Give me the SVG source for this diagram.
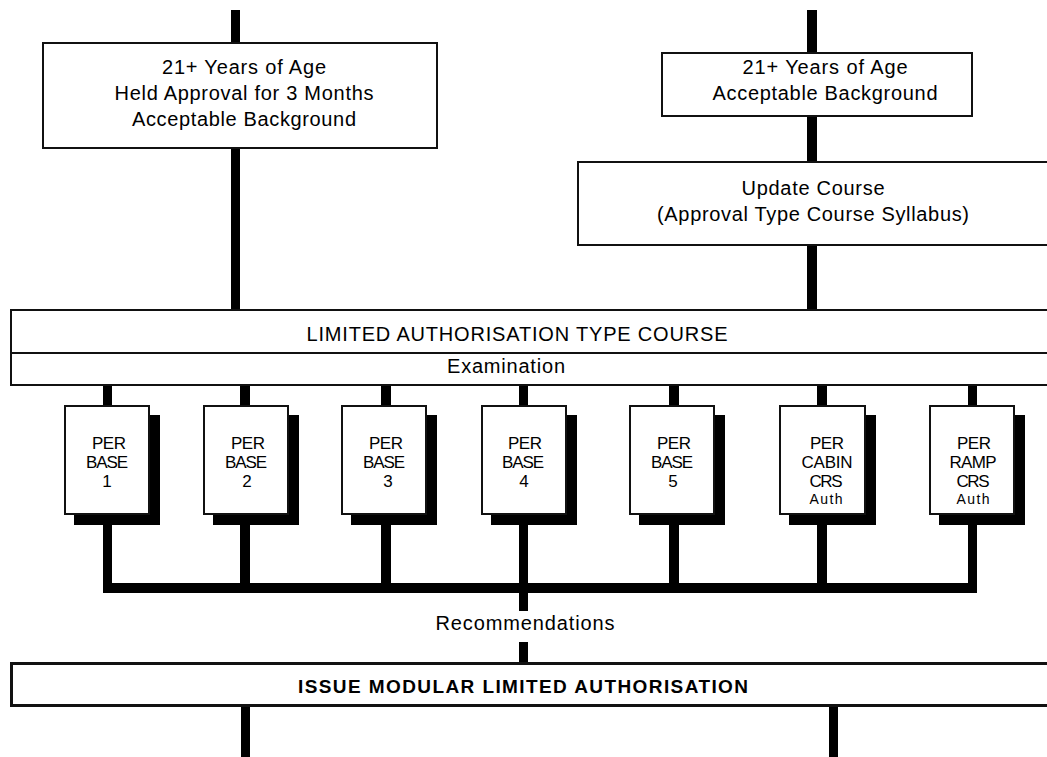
<svg xmlns="http://www.w3.org/2000/svg" width="1047" height="757" viewBox="0 0 1047 757">
<style>
  .box { fill: #fff; stroke: #111; stroke-width: 2; }
  .thick { fill: #fff; stroke: #111; stroke-width: 3; }
  .shadow { fill: #000; }
  .ln { fill: #000; }
  text { font-family: "Liberation Sans", Arial, sans-serif; fill: #000; text-anchor: middle; }
  .t { font-size: 20px; }
  .p { font-size: 17px; }
  .s { font-size: 14px; }
  .b { font-size: 19px; font-weight: bold; }
</style>
<rect width="1047" height="757" fill="#fff"/>
<g id="connectors">
  <rect class="ln" x="231" y="10" width="9" height="34"/>
  <rect class="ln" x="231" y="148" width="9" height="162"/>
  <rect class="ln" x="807" y="10" width="10" height="44"/>
  <rect class="ln" x="807" y="116" width="10" height="46"/>
  <rect class="ln" x="807" y="245" width="10" height="65"/>
  <rect class="ln" x="103" y="385" width="9" height="21"/>
  <rect class="ln" x="240" y="385" width="10" height="21"/>
  <rect class="ln" x="381" y="385" width="10" height="21"/>
  <rect class="ln" x="519" y="385" width="9" height="21"/>
  <rect class="ln" x="669" y="385" width="10" height="21"/>
  <rect class="ln" x="817" y="385" width="10" height="21"/>
  <rect class="ln" x="968" y="385" width="9" height="21"/>
  <rect class="ln" x="103" y="520" width="9" height="73"/>
  <rect class="ln" x="240" y="520" width="10" height="73"/>
  <rect class="ln" x="381" y="520" width="10" height="73"/>
  <rect class="ln" x="519" y="520" width="9" height="73"/>
  <rect class="ln" x="669" y="520" width="10" height="73"/>
  <rect class="ln" x="817" y="520" width="10" height="73"/>
  <rect class="ln" x="968" y="520" width="9" height="73"/>
  <rect class="ln" x="103" y="583" width="874" height="10"/>
  <rect class="ln" x="519" y="593" width="9" height="18"/>
  <rect class="ln" x="519" y="642" width="9" height="22"/>
  <rect class="ln" x="241" y="706" width="9" height="51"/>
  <rect class="ln" x="829" y="706" width="9" height="51"/>
  <text class="t" x="525" y="630" textLength="179" lengthAdjust="spacing">Recommendations</text>
</g>
<g id="req-left">
  <rect class="box" x="43" y="43" width="394" height="105"/>
  <text class="t" x="244" y="74" textLength="164" lengthAdjust="spacing">21+ Years of Age</text>
  <text class="t" x="244" y="100" textLength="259" lengthAdjust="spacing">Held Approval for 3 Months</text>
  <text class="t" x="244" y="126" textLength="224" lengthAdjust="spacing">Acceptable Background</text>
</g>
<g id="req-right">
  <rect class="box" x="662" y="53" width="310" height="63"/>
  <text class="t" x="825" y="74" textLength="165" lengthAdjust="spacing">21+ Years of Age</text>
  <text class="t" x="825" y="100" textLength="225" lengthAdjust="spacing">Acceptable Background</text>
</g>
<g id="update-course">
  <rect class="box" x="578" y="162" width="480" height="83"/>
  <text class="t" x="813" y="195" textLength="143" lengthAdjust="spacing">Update Course</text>
  <text class="t" x="813" y="221" textLength="312" lengthAdjust="spacing">(Approval Type Course Syllabus)</text>
</g>
<g id="type-course">
  <rect class="box" x="11" y="310" width="1050" height="75"/>
  <line x1="11" y1="353" x2="1047" y2="353" stroke="#111" stroke-width="2"/>
  <text class="t" x="517" y="341" textLength="421" lengthAdjust="spacing">LIMITED AUTHORISATION TYPE COURSE</text>
  <text class="t" x="506" y="373" textLength="118" lengthAdjust="spacing">Examination</text>
</g>
<g id="per-base-1">
  <rect class="shadow" x="74" y="415" width="86" height="110"/>
  <rect class="box" x="65" y="406" width="84" height="108"/>
  <text class="p" x="109" y="449" textLength="34" lengthAdjust="spacing">PER</text>
  <text class="p" x="107" y="468" textLength="42" lengthAdjust="spacing">BASE</text>
  <text class="p" x="107" y="487">1</text>
</g>
<g id="per-base-2">
  <rect class="shadow" x="213" y="415" width="86" height="110"/>
  <rect class="box" x="204" y="406" width="84" height="108"/>
  <text class="p" x="248" y="449" textLength="34" lengthAdjust="spacing">PER</text>
  <text class="p" x="246" y="468" textLength="42" lengthAdjust="spacing">BASE</text>
  <text class="p" x="247" y="487">2</text>
</g>
<g id="per-base-3">
  <rect class="shadow" x="351" y="415" width="86" height="110"/>
  <rect class="box" x="342" y="406" width="84" height="108"/>
  <text class="p" x="386" y="449" textLength="34" lengthAdjust="spacing">PER</text>
  <text class="p" x="384" y="468" textLength="42" lengthAdjust="spacing">BASE</text>
  <text class="p" x="388" y="487">3</text>
</g>
<g id="per-base-4">
  <rect class="shadow" x="491" y="415" width="86" height="110"/>
  <rect class="box" x="482" y="406" width="84" height="108"/>
  <text class="p" x="525" y="449" textLength="34" lengthAdjust="spacing">PER</text>
  <text class="p" x="523" y="468" textLength="42" lengthAdjust="spacing">BASE</text>
  <text class="p" x="524" y="487">4</text>
</g>
<g id="per-base-5">
  <rect class="shadow" x="639" y="415" width="86" height="110"/>
  <rect class="box" x="630" y="406" width="84" height="108"/>
  <text class="p" x="674" y="449" textLength="34" lengthAdjust="spacing">PER</text>
  <text class="p" x="672" y="468" textLength="42" lengthAdjust="spacing">BASE</text>
  <text class="p" x="673" y="487">5</text>
</g>
<g id="per-cabin">
  <rect class="shadow" x="789" y="415" width="87" height="110"/>
  <rect class="box" x="780" y="406" width="85" height="108"/>
  <text class="p" x="827" y="449" textLength="34" lengthAdjust="spacing">PER</text>
  <text class="p" x="827" y="468" textLength="51" lengthAdjust="spacing">CABIN</text>
  <text class="p" x="826" y="487" textLength="33" lengthAdjust="spacing">CRS</text>
  <text class="s" x="826" y="504" textLength="33" lengthAdjust="spacing">Auth</text>
</g>
<g id="per-ramp">
  <rect class="shadow" x="939" y="415" width="86" height="110"/>
  <rect class="box" x="930" y="406" width="84" height="108"/>
  <text class="p" x="974" y="449" textLength="34" lengthAdjust="spacing">PER</text>
  <text class="p" x="973" y="468" textLength="47" lengthAdjust="spacing">RAMP</text>
  <text class="p" x="973" y="487" textLength="33" lengthAdjust="spacing">CRS</text>
  <text class="s" x="973" y="504" textLength="33" lengthAdjust="spacing">Auth</text>
</g>
<g id="issue">
  <rect class="thick" x="11.5" y="663.5" width="1050" height="42"/>
  <text class="b" x="523" y="693" textLength="450" lengthAdjust="spacing">ISSUE MODULAR LIMITED AUTHORISATION</text>
</g>
</svg>
